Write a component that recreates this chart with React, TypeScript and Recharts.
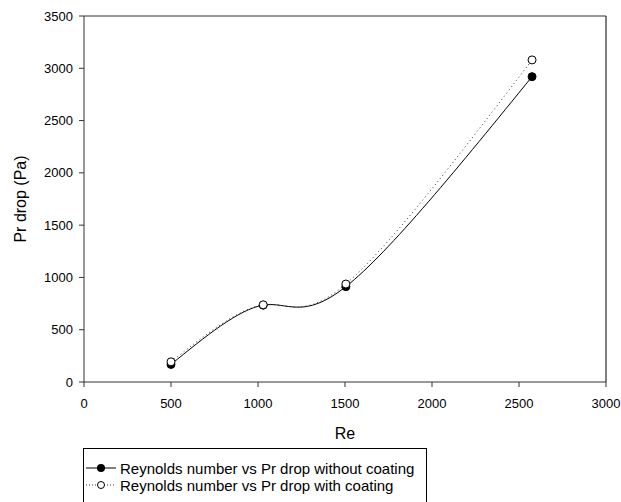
import React from 'react';
import { ComposedChart, Line, XAxis, YAxis, ReferenceLine } from 'recharts';

const reValues = [500, 1030, 1505, 2575];
const dropWithout = [168, 735, 912, 2920];
const dropWith = [193, 738, 937, 3080];

const xTicks = [0, 500, 1000, 1500, 2000, 2500, 3000];
const yTicks = [0, 500, 1000, 1500, 2000, 2500, 3000, 3500];

const seriesWithout = reValues.map((re, i) => ({ re, drop: dropWithout[i] }));
const seriesWith = reValues.map((re, i) => ({ re, drop: dropWith[i] }));

const FONT = '"Liberation Sans", Arial, sans-serif';
const tickStyle = { fontSize: 13, fill: '#000', fontFamily: FONT };

const FilledDot = (props: any) => {
  const { cx, cy } = props;
  return <circle cx={cx} cy={cy} r={4} fill="#000" stroke="#000" strokeWidth={1} />;
};

const OpenDot = (props: any) => {
  const { cx, cy } = props;
  return <circle cx={cx} cy={cy} r={4} fill="#fff" stroke="#000" strokeWidth={1} />;
};

export default function App() {
  return (
    <div style={{ position: 'absolute', left: 0, top: 0, width: 621, height: 502, background: '#fff', fontFamily: FONT }}>
      <ComposedChart width={621} height={502} margin={{ top: 16, right: 15, left: 0, bottom: 80 }}>
        <XAxis
          type="number"
          dataKey="re"
          domain={[0, 3000]}
          ticks={xTicks}
          allowDataOverflow
          height={40}
          stroke="#333"
          tickSize={5}
          tickMargin={12}
          tick={tickStyle}
          interval={0}
          label={{ value: 'Re', position: 'bottom', offset: 6, style: { fontSize: 16, fill: '#000', fontFamily: FONT } }}
        />
        <YAxis
          type="number"
          dataKey="drop"
          domain={[0, 3500]}
          ticks={yTicks}
          width={84}
          stroke="#333"
          tickSize={5}
          tickMargin={6}
          tick={tickStyle}
          interval={0}
          label={{ value: 'Pr drop (Pa)', angle: -90, position: 'insideLeft', offset: 20, style: { fontSize: 16, fill: '#000', fontFamily: FONT, textAnchor: 'middle' } }}
        />
        <ReferenceLine y={3500} stroke="#333" />
        <ReferenceLine x={3000} stroke="#000" />
        <Line
          data={seriesWithout}
          dataKey="drop"
          type="natural"
          stroke="#000"
          strokeWidth={1}
          dot={<FilledDot />}
          activeDot={false}
          isAnimationActive={false}
          name="Reynolds number vs Pr drop without coating"
        />
        <Line
          data={seriesWith}
          dataKey="drop"
          type="natural"
          stroke="#333"
          strokeWidth={1}
          strokeDasharray="1 3"
          dot={<OpenDot />}
          activeDot={false}
          isAnimationActive={false}
          name="Reynolds number vs Pr drop with coating"
        />
      </ComposedChart>
      <div
        style={{
          position: 'absolute',
          left: 83,
          top: 448,
          width: 344,
          height: 60,
          border: '1px solid #000',
          boxSizing: 'border-box',
          fontSize: 15,
          color: '#000',
        }}
      >
        <div style={{ position: 'absolute', left: 0, top: 10, display: 'flex', alignItems: 'center', height: 18 }}>
          <svg width={36} height={18}>
            <line x1={2} y1={9} x2={32} y2={9} stroke="#000" strokeWidth={1} />
            <circle cx={17} cy={9} r={4} fill="#000" />
          </svg>
          <span>Reynolds number vs Pr drop without coating</span>
        </div>
        <div style={{ position: 'absolute', left: 0, top: 27, display: 'flex', alignItems: 'center', height: 18 }}>
          <svg width={36} height={18}>
            <line x1={2} y1={9} x2={32} y2={9} stroke="#333" strokeWidth={1} strokeDasharray="1 2" />
            <circle cx={17} cy={9} r={3.5} fill="#fff" stroke="#000" strokeWidth={1} />
          </svg>
          <span>Reynolds number vs Pr drop with coating</span>
        </div>
      </div>
    </div>
  );
}
